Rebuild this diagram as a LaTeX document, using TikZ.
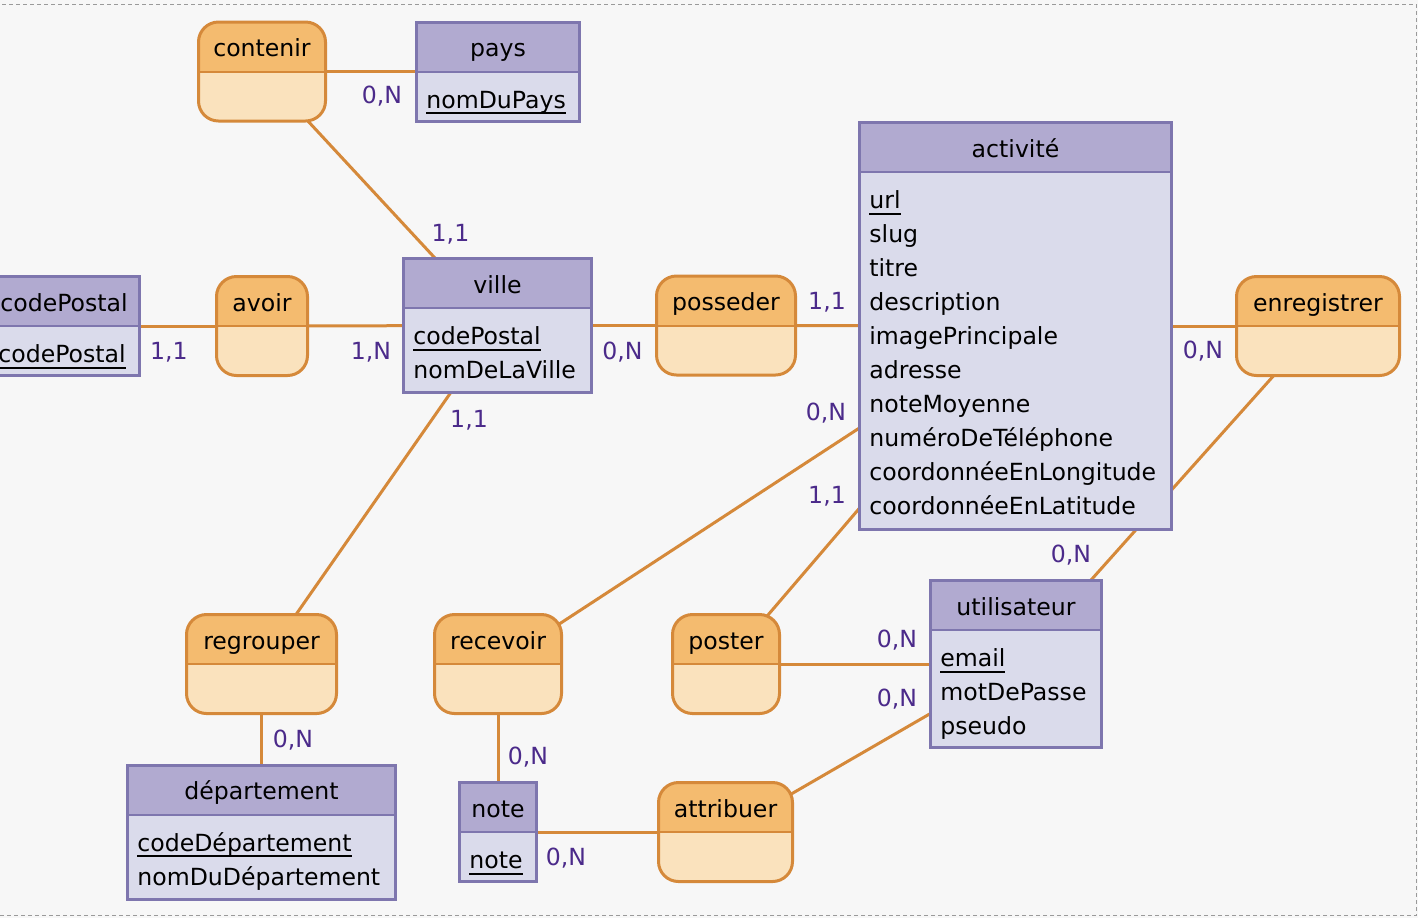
\documentclass[tikz,border=0pt]{standalone}
\usepackage{fontspec}
\setmainfont{DejaVu Sans}

\definecolor{ebord}{HTML}{7E76AE}
\definecolor{ehead}{HTML}{B1AAD0}
\definecolor{ebody}{HTML}{DADBEB}
\definecolor{rbord}{HTML}{D5893A}
\definecolor{rhead}{HTML}{F4BB6F}
\definecolor{rbody}{HTML}{FAE2BD}
\definecolor{cardtxt}{HTML}{4B2A8A}
\definecolor{canvas}{HTML}{F7F7F7}
\definecolor{frame}{HTML}{9A9A9A}

\pgfdeclarelayer{back}
\pgfdeclarelayer{links}
\pgfsetlayers{back,links,main}

% underlined identifier
\newsavebox{\pkbox}
\newcommand{\pk}[1]{\sbox{\pkbox}{#1}\rule{0pt}{9.5pt}\rlap{\rule[-3pt]{\wd\pkbox}{1pt}}\usebox{\pkbox}}

\begin{document}
\begin{tikzpicture}[
  x=0.5pt, y=-0.5pt,
  font=\fontsize{11.8}{17}\selectfont,
  ent/.style={draw=ebord, fill=ebody, line width=1.5pt, inner sep=0pt, minimum height=49.5pt,
    path picture={
      \fill[ehead, sharp corners] (path picture bounding box.north west) rectangle ([yshift=-24.75pt]path picture bounding box.north east);
      \draw[ebord, line width=1pt, sharp corners] ([yshift=-24.75pt]path picture bounding box.north west) -- ([yshift=-24.75pt]path picture bounding box.north east);
    }},
  rel/.style={draw=rbord, fill=rbody, line width=1.5pt, inner sep=0pt, rounded corners=10pt, minimum height=49.5pt,
    path picture={
      \fill[rhead, sharp corners] (path picture bounding box.north west) rectangle ([yshift=-24.75pt]path picture bounding box.north east);
      \draw[rbord, line width=1pt, sharp corners] ([yshift=-24.75pt]path picture bounding box.north west) -- ([yshift=-24.75pt]path picture bounding box.north east);
    }},
  ttl/.style={anchor=base, inner sep=0pt},
  att/.style={anchor=north west, align=left, inner sep=0pt},
  card/.style={text=cardtxt, inner sep=0pt},
  link/.style={draw=rbord, line width=1.5pt}
]
\useasboundingbox (0,0) rectangle (1418,918);
\clip (0,0) rectangle (1418,918);

% entities
\node[ent, minimum width=81.5pt] (pays) at (498,71.5) {};
\node[ttl] (paysT) at ([yshift=-18pt]pays.north) {pays};
\node[att] (paysA) at ([xshift=5.5pt,yshift=-34.25pt]pays.north west) {\pk{nomDuPays}};

\node[ent, minimum width=75.5pt] (codepostal) at (64,326) {};
\node[ttl] (codepostalT) at ([yshift=-18pt]codepostal.north) {codePostal};
\node[att] (codepostalA) at ([xshift=5.5pt,yshift=-34.25pt]codepostal.north west) {\pk{codePostal}};

\node[ent, minimum width=94pt, minimum height=67pt] (ville) at (497.5,325.5) {};
\node[ttl] (villeT) at ([yshift=-18pt]ville.north) {ville};
\node[att] (villeA) at ([xshift=5.5pt,yshift=-34.25pt]ville.north west) {\pk{codePostal}\\nomDeLaVille};

\node[ent, minimum width=156pt, minimum height=203.5pt] (activite) at (1015.5,326) {};
\node[ttl] (activiteT) at ([yshift=-18pt]activite.north) {activité};
\node[att] (activiteA) at ([xshift=5.5pt,yshift=-34.25pt]activite.north west)
  {\pk{url}\\slug\\titre\\description\\imagePrincipale\\adresse\\noteMoyenne\\numéroDeTéléphone\\coordonnéeEnLongitude\\coordonnéeEnLatitude};

\node[ent, minimum width=85.5pt, minimum height=83.5pt] (utilisateur) at (1016,664) {};
\node[ttl] (utilisateurT) at ([yshift=-18pt]utilisateur.north) {utilisateur};
\node[att] (utilisateurA) at ([xshift=5.5pt,yshift=-34.25pt]utilisateur.north west) {\pk{email}\\motDePasse\\pseudo};

\node[ent, minimum width=38.5pt] (note) at (498,832) {};
\node[ttl] (noteT) at ([yshift=-18pt]note.north) {note};
\node[att] (noteA) at ([xshift=5.5pt,yshift=-34.25pt]note.north west) {\pk{note}};

\node[ent, minimum width=134pt, minimum height=67pt] (departement) at (261.5,832) {};
\node[ttl] (departementT) at ([yshift=-18pt]departement.north) {département};
\node[att] (departementA) at ([xshift=5.5pt,yshift=-34.25pt]departement.north west) {\pk{codeDépartement}\\nomDuDépartement};

% associations
\node[rel, minimum width=63.5pt] (contenir) at (262,71.5) {};
\node[ttl] (contenirT) at ([yshift=-18pt]contenir.north) {contenir};
\node[rel, minimum width=45.5pt] (avoir) at (262,326) {};
\node[ttl] (avoirT) at ([yshift=-18pt]avoir.north) {avoir};
\node[rel, minimum width=69.5pt] (posseder) at (726,325.5) {};
\node[ttl] (possederT) at ([yshift=-18pt]posseder.north) {posseder};
\node[rel, minimum width=81.5pt] (enregistrer) at (1318,326) {};
\node[ttl] (enregistrerT) at ([yshift=-18pt]enregistrer.north) {enregistrer};
\node[rel, minimum width=75pt] (regrouper) at (261.5,664) {};
\node[ttl] (regrouperT) at ([yshift=-18pt]regrouper.north) {regrouper};
\node[rel, minimum width=63.5pt] (recevoir) at (498,664) {};
\node[ttl] (recevoirT) at ([yshift=-18pt]recevoir.north) {recevoir};
\node[rel, minimum width=53.5pt] (poster) at (726,664) {};
\node[ttl] (posterT) at ([yshift=-18pt]poster.north) {poster};
\node[rel, minimum width=67pt] (attribuer) at (725.5,832) {};
\node[ttl] (attribuerT) at ([yshift=-18pt]attribuer.north) {attribuer};

% cardinalities
\node[card] (cardPays) at (382,96.5) {0,N};
\node[card] (cardVilleC) at (450.5,234) {1,1};
\node[card] (cardCode) at (169,352) {1,1};
\node[card] (cardVilleA) at (371,352) {1,N};
\node[card] (cardVilleR) at (469,420) {1,1};
\node[card] (cardVilleP) at (622.5,352) {0,N};
\node[card] (cardActP) at (827,302) {1,1};
\node[card] (cardActR) at (826,413) {0,N};
\node[card] (cardActPo) at (827,496) {1,1};
\node[card] (cardActE) at (1203,351) {0,N};
\node[card] (cardUtilE) at (1071,555) {0,N};
\node[card] (cardUtilP) at (897,640) {0,N};
\node[card] (cardUtilA) at (897,699) {0,N};
\node[card] (cardDep) at (293,740) {0,N};
\node[card] (cardNoteR) at (528,757) {0,N};
\node[card] (cardNoteA) at (566,858) {0,N};

% links behind the boxes
\begin{pgfonlayer}{links}
\draw[link] (contenir.center) -- (pays.center);
\draw[link] (contenir.center) -- (ville.center);
\draw[link] (codepostal.center) -- (avoir.center);
\draw[link] (avoir.center) -- (ville.center);
\draw[link] (ville.center) -- (posseder.center);
\draw[link] (posseder.center) -- (activite.center);
\draw[link] (activite.center) -- (enregistrer.center);
\draw[link] (enregistrer.center) -- (utilisateur.center);
\draw[link] (ville.center) -- (regrouper.center);
\draw[link] (regrouper.center) -- (departement.center);
\draw[link] (activite.center) -- (recevoir.center);
\draw[link] (recevoir.center) -- (note.center);
\draw[link] (activite.center) -- (poster.center);
\draw[link] (poster.center) -- (utilisateur.center);
\draw[link] (note.center) -- (attribuer.center);
\draw[link] (attribuer.center) -- (utilisateur.center);
\end{pgfonlayer}

% canvas
\begin{pgfonlayer}{back}
\fill[canvas] (0,0) rectangle (1418,918);
\draw[frame, line width=0.6pt, dash pattern=on 2pt off 1.5pt] (-5,4.5) -- (1416.5,4.5) -- (1416.5,915.5) -- (-5,915.5);
\end{pgfonlayer}
\end{tikzpicture}
\end{document}
